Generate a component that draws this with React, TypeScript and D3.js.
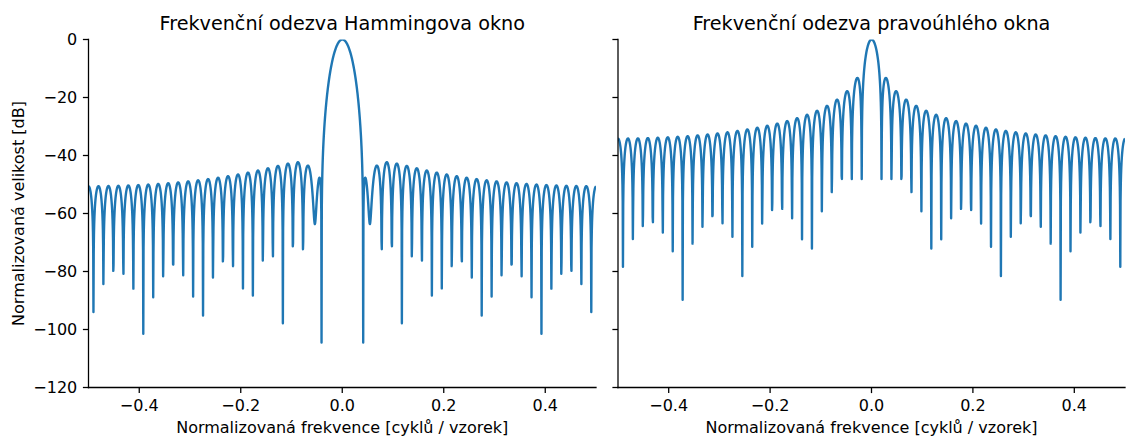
import React from "react";
import * as d3 from "d3";

// Window samples (51 taps) whose 2048-point spectra are plotted
const hammingWindow = [
  0.08, 0.083627, 0.094452, 0.112303, 0.136899, 0.167852, 0.204674, 0.246785,
  0.29352, 0.344142, 0.397852, 0.453805, 0.511116, 0.568884, 0.626195, 0.682148,
  0.735858, 0.78648, 0.833215, 0.875326, 0.912148, 0.943101, 0.967697, 0.985548,
  0.996373, 1.0, 0.996373, 0.985548, 0.967697, 0.943101, 0.912148, 0.875326,
  0.833215, 0.78648, 0.735858, 0.682148, 0.626195, 0.568884, 0.511116, 0.453805,
  0.397852, 0.344142, 0.29352, 0.246785, 0.204674, 0.167852, 0.136899, 0.112303,
  0.094452, 0.083627, 0.08,
];
const boxcarWindow = [
  1, 1, 1, 1, 1, 1, 1, 1, 1, 1, 1, 1, 1, 1, 1, 1, 1, 1, 1, 1, 1, 1, 1, 1, 1, 1,
  1, 1, 1, 1, 1, 1, 1, 1, 1, 1, 1, 1, 1, 1, 1, 1, 1, 1, 1, 1, 1, 1, 1, 1, 1,
];
const fftLength = 2048;

const xTicks = [-0.4, -0.2, 0.0, 0.2, 0.4];
const yTicks = [0, -20, -40, -60, -80, -100, -120];
const xDomain = [-0.5, 0.5];
const yDomain = [-120, 0];
const titles = ["Frekvenční odezva Hammingova okno", "Frekvenční odezva pravoúhlého okna"];
const xLabel = "Normalizovaná frekvence [cyklů / vzorek]";
const yLabel = "Normalizovaná velikost [dB]";

type Pt = { f: number; db: number };

function spectrum(w: number[]): Pt[] {
  const N = fftLength;
  const mags = new Float64Array(N);
  for (let k = 0; k < N; k++) {
    let re = 0,
      im = 0;
    for (let n = 0; n < w.length; n++) {
      const a = (-2 * Math.PI * k * n) / N;
      re += w[n] * Math.cos(a);
      im += w[n] * Math.sin(a);
    }
    mags[k] = Math.hypot(re, im);
  }
  let mx = 0;
  for (let k = 0; k < N; k++) mx = Math.max(mx, mags[k]);
  const out: Pt[] = [];
  for (let j = 0; j < N; j++) {
    const k = (j + N / 2) % N;
    const f = xDomain[0] + (j * (xDomain[1] - xDomain[0])) / (N - 1);
    const db = 20 * Math.log10(mags[k] / mx);
    out.push({ f, db: Math.max(db, -400) });
  }
  return out;
}

const FONT = "DejaVu Sans, sans-serif";
const TICK_FONT = 16;
const TITLE_FONT = 19.2;
const TICK_LEN = 5.6;
const PAD = 5.6;
const SPINE_W = 1.28;

const fmt = (v: number, dec: number) => {
  const s = Math.abs(v).toFixed(dec);
  return v < 0 ? "\u2212" + s : s;
};

function Panel({
  left,
  right,
  top,
  bottom,
  data,
  title,
  showYLabels,
  id,
}: {
  left: number;
  right: number;
  top: number;
  bottom: number;
  data: Pt[];
  title: string;
  showYLabels: boolean;
  id: string;
}) {
  const x = d3.scaleLinear().domain(xDomain).range([left, right]);
  const y = d3.scaleLinear().domain(yDomain).range([bottom, top]);
  const line = d3
    .line<Pt>()
    .x((d) => x(d.f))
    .y((d) => y(d.db));
  return (
    <g>
      <defs>
        <clipPath id={id}>
          <rect x={left} y={top} width={right - left} height={bottom - top} />
        </clipPath>
      </defs>
      <path
        d={line(data) || ""}
        fill="none"
        stroke="#1f77b4"
        strokeWidth={2.4}
        strokeLinejoin="round"
        clipPath={`url(#${id})`}
      />
      <line x1={left} x2={left} y1={top} y2={bottom} stroke="#000" strokeWidth={SPINE_W} strokeLinecap="square" />
      <line x1={left} x2={right} y1={bottom} y2={bottom} stroke="#000" strokeWidth={SPINE_W} strokeLinecap="square" />
      {xTicks.map((t) => (
        <g key={"x" + t}>
          <line x1={x(t)} x2={x(t)} y1={bottom} y2={bottom + TICK_LEN} stroke="#000" strokeWidth={SPINE_W} />
          <text
            x={x(t)}
            y={bottom + TICK_LEN + PAD + 11.8}
            textAnchor="middle"
            fontFamily={FONT}
            fontSize={TICK_FONT}
            fill="#000"
          >
            {fmt(t, 1)}
          </text>
        </g>
      ))}
      {yTicks.map((t) => (
        <g key={"y" + t}>
          <line x1={left - TICK_LEN} x2={left} y1={y(t)} y2={y(t)} stroke="#000" strokeWidth={SPINE_W} />
          {showYLabels && (
            <text
              x={left - TICK_LEN - PAD}
              y={y(t)}
              dy="0.36em"
              textAnchor="end"
              fontFamily={FONT}
              fontSize={TICK_FONT}
              fill="#000"
            >
              {fmt(t, 0)}
            </text>
          )}
        </g>
      ))}
      <text
        x={(left + right) / 2}
        y={top - 9.6}
        textAnchor="middle"
        fontFamily={FONT}
        fontSize={TITLE_FONT}
        fill="#000"
      >
        {title}
      </text>
      <text
        x={(left + right) / 2}
        y={432.5}
        textAnchor="middle"
        fontFamily={FONT}
        fontSize={TICK_FONT}
        fill="#000"
      >
        {xLabel}
      </text>
    </g>
  );
}

export default function App() {
  const hamming = React.useMemo(() => spectrum(hammingWindow), []);
  const boxcar = React.useMemo(() => spectrum(boxcarWindow), []);
  const top = 39.5;
  const bottom = 387.5;
  return (
    <svg
      width={1128}
      height={437}
      style={{ position: "absolute", left: 0, top: 0, background: "#fff" }}
    >
      <rect x={0} y={0} width={1128} height={437} fill="#fff" />
      <Panel left={88.5} right={596} top={top} bottom={bottom} data={hamming} title={titles[0]} showYLabels id="clipA" />
      <Panel left={618} right={1125} top={top} bottom={bottom} data={boxcar} title={titles[1]} showYLabels={false} id="clipB" />
      <text
        transform={`translate(24, ${(top + bottom) / 2}) rotate(-90)`}
        textAnchor="middle"
        fontFamily={FONT}
        fontSize={TICK_FONT}
        fill="#000"
      >
        {yLabel}
      </text>
    </svg>
  );
}
